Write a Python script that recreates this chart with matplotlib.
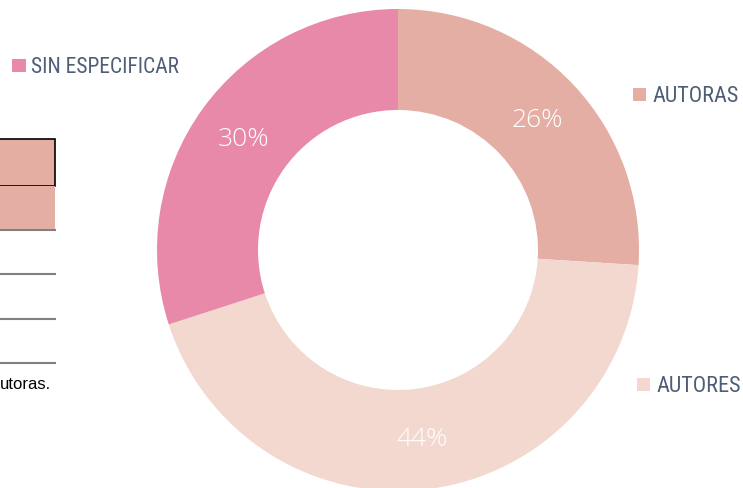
import matplotlib
matplotlib.use("Agg")
import matplotlib.pyplot as plt
from matplotlib import font_manager
from matplotlib.patches import Rectangle

# ---------------------------------------------------------------
# Data
# ---------------------------------------------------------------
categories = ["AUTORAS", "AUTORES", "SIN ESPECIFICAR"]
shares = [26, 44, 30]
colors = ["#E4AEA5", "#F2D8CE", "#E889AA"]

LABEL_COLOR = "#4E5E76"
W, H = 743, 489


def narrow_font():
    """Pick a condensed sans face if one is installed."""
    names = {f.name for f in font_manager.fontManager.ttflist}
    for fam in ["Liberation Sans Narrow", "Roboto Condensed",
                "Open Sans Condensed", "DejaVu Sans Condensed"]:
        if fam in names:
            return dict(family=fam)
    return dict(family="DejaVu Sans", stretch="condensed")


fig = plt.figure(figsize=(W / 100, H / 100), dpi=100)
ax = fig.add_axes([0, 0, 1, 1])

# donut, clockwise from 12 o'clock (pixel-based coordinates, y up)
cx, cy, r_out, r_in = 398, H - 251, 241, 140
wedges, _, pcts = ax.pie(
    shares, colors=colors, startangle=90, counterclock=False,
    center=(cx, cy), radius=r_out,
    wedgeprops=dict(width=r_out - r_in, linewidth=0),
    autopct="%d%%", pctdistance=(r_out + r_in) / 2 / r_out,
    textprops=dict(color="white", fontsize=19, family="Open Sans",
                   fontweight="light"),
)

# legend entries next to the ring: (square x, text baseline y, font size)
legend_pos = {
    "SIN ESPECIFICAR": (12, 73, 15.5),
    "AUTORAS": (633, 102, 16),
    "AUTORES": (637, 392, 16),
}
nf = narrow_font()
for name, col in zip(categories, colors):
    x, base, fs = legend_pos[name]
    ax.add_patch(Rectangle((x, H - base), 13.5, 13.5, color=col, lw=0))
    ax.text(x + 19, H - base, name, color=LABEL_COLOR, fontsize=fs,
            va="baseline", ha="left", **nf)

# fragment of the neighbouring table on the left edge
ax.add_patch(Rectangle((-2, H - 187), 57, 47, facecolor="#E4AEA2",
                       edgecolor="black", lw=1.2))
ax.add_patch(Rectangle((-2, H - 231), 57, 44, facecolor="#E4AEA5", lw=0))
for yl in [231, 275, 320, 364]:
    ax.plot([0, 55], [H - yl, H - yl], color="#808080", lw=1.5)
ax.text(0, H - 385, "utoras.", fontsize=12, color="black",
        family="Liberation Sans", va="center", ha="left")

ax.set_xlim(0, W)
ax.set_ylim(0, H)
ax.set_aspect("equal")
ax.axis("off")

fig.savefig("out.png", dpi=100)
